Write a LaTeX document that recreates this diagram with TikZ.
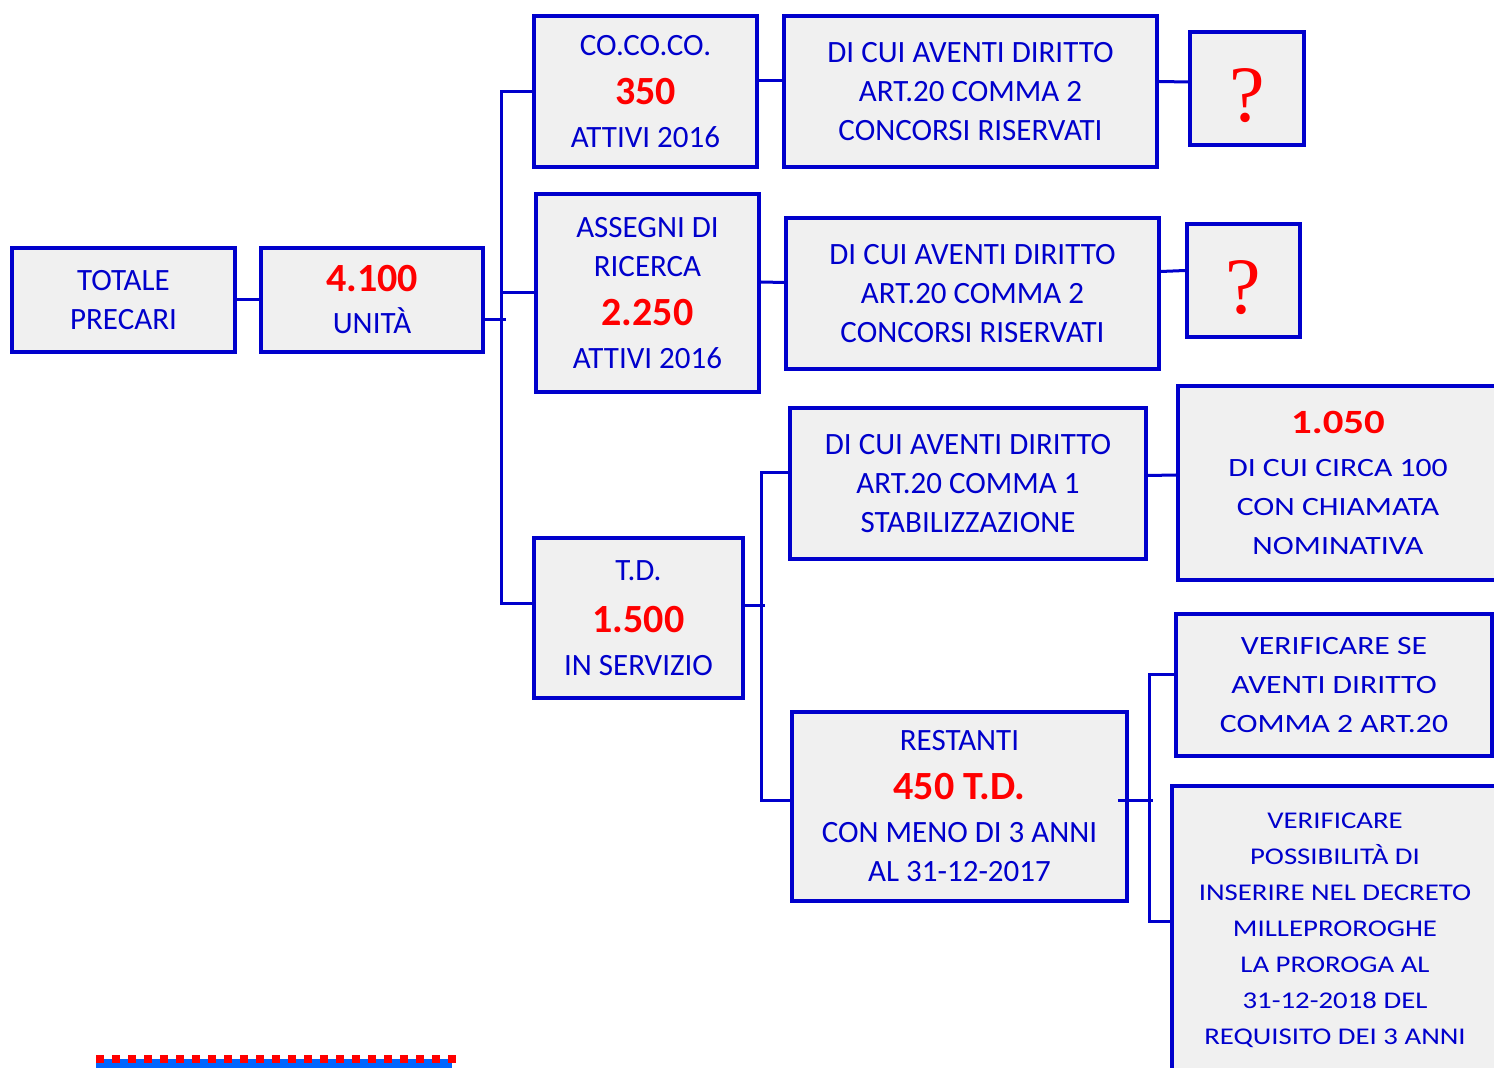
\documentclass[tikz,border=0pt]{standalone}
\usepackage{fontspec}
\setmainfont{Carlito}
\newfontfamily\widefont[FakeStretch=1.2]{Carlito}
\newfontfamily\askfont{Liberation Serif}
\definecolor{boxline}{RGB}{0,0,204}
\definecolor{boxtext}{RGB}{0,0,204}
\definecolor{boxfill}{RGB}{240,240,240}
\definecolor{amountred}{RGB}{255,0,0}
\definecolor{rulerblue}{RGB}{0,102,255}
\newcommand{\amount}[2][20]{{\fontsize{#1}{19.5}\selectfont\bfseries\color{amountred}#2}}
\newcommand{\ask}{\raisebox{-3.5pt}[\height][0pt]{?}}

\begin{document}
\begin{tikzpicture}[x=0.5pt, y=-0.5pt,
    box/.style={draw=boxline, line width=1.75pt, fill=boxfill, text=boxtext,
        align=center, inner sep=0pt, font=\fontsize{15.5}{19.5}\selectfont},
    widebox/.style={box, font=\widefont\fontsize{13.2}{19.5}\selectfont},
    askbox/.style={box, text=amountred, font=\askfont\fontsize{40}{40}\selectfont},
    boxsize/.style 2 args={minimum width=#1*0.5pt, minimum height=#2*0.5pt},
    link/.style={draw=boxline, line width=1.5pt}]
    \useasboundingbox (0,0) rectangle (1494,1068);

    % first column
    \node[box, boxsize={223}{104}] (totale) at (123.5,300) {TOTALE\\PRECARI};
    \node[box, boxsize={222}{104}] (unita) at (372,300) {\amount{4.100}\\[1.5pt]UNITÀ};

    % co.co.co.
    \node[box, boxsize={223}{151}] (cococo) at (645.5,91.5)
        {CO.CO.CO.\\[5pt]\amount{350}\\[2pt]ATTIVI 2016};
    \node[box, boxsize={373}{151}] (dicuiA) at (970.5,91.5)
        {DI CUI AVENTI DIRITTO\\ART.20 COMMA 2\\CONCORSI RISERVATI};
    \node[askbox, boxsize={114}{113}] (askA) at (1247,88.5) {\ask};

    % assegni di ricerca
    \node[box, boxsize={223}{198}] (assegni) at (647.5,293)
        {ASSEGNI DI\\RICERCA\\[5pt]\amount{2.250}\\[2pt]ATTIVI 2016};
    \node[box, boxsize={373}{151}] (dicuiB) at (972.5,293.5)
        {DI CUI AVENTI DIRITTO\\ART.20 COMMA 2\\CONCORSI RISERVATI};
    \node[askbox, boxsize={113}{113}] (askB) at (1243.5,280.5) {\ask};

    % t.d.
    \node[box, boxsize={209}{160}] (td) at (638.5,618)
        {T.D.\\[6.5pt]\amount{1.500}\\[2pt]IN SERVIZIO};
    \node[box, boxsize={356}{151}] (dicuiC) at (968,483.5)
        {DI CUI AVENTI DIRITTO\\ART.20 COMMA 1\\STABILIZZAZIONE};
    \node[widebox, boxsize={320}{194}] (chiamata) at (1338,483)
        {\amount[17]{1.050}\\[2pt]DI CUI CIRCA 100\\CON CHIAMATA\\NOMINATIVA};
    \node[box, boxsize={335}{189}] (restanti) at (959.5,806.5)
        {RESTANTI\\[5pt]\amount{450 T.D.}\\[2pt]CON MENO DI 3 ANNI\\AL 31-12-2017};
    \node[widebox, boxsize={316}{142}] (verificaA) at (1334,685)
        {VERIFICARE SE\\AVENTI DIRITTO\\COMMA 2 ART.20};
    \node[widebox, boxsize={326}{289}, font=\widefont\fontsize{12}{18}\selectfont] (verificaB) at (1335,930.5)
        {VERIFICARE\\POSSIBILITÀ DI\\INSERIRE NEL DECRETO\\MILLEPROROGHE\\LA PROROGA AL\\31-12-2018 DEL\\REQUISITO DEI 3 ANNI};

    % connectors
    \draw[link] (totale.east) -- (unita.west);
    \draw[link] ([yshift=-10pt]unita.east) -- ++(21,0);
    \draw[link] (cococo.west) -- ++(-31,0) |- ([yshift=7pt]td.west);
    \draw[link] (assegni.west) -- ++(-32,0);

    \draw[link] ([yshift=5.5pt]cococo.east) -- ([yshift=5.5pt]dicuiA.west);
    \draw[link] ([yshift=5pt]dicuiA.east) -- ([yshift=3.25pt]askA.west);
    \draw[link] ([yshift=5.5pt]assegni.east) -- ([yshift=5.5pt]dicuiB.west);
    \draw[link] ([yshift=11pt]dicuiB.east) -- ([yshift=5pt]askB.west);

    \draw[link] ([yshift=6pt]td.east) -- ++(20,0);
    \draw[link] ([yshift=5.5pt]dicuiC.west) -- ++(-27,0) |- ([yshift=3pt]restanti.west);
    \draw[link] ([yshift=4pt]dicuiC.east) -- ([yshift=4pt]chiamata.west);

    \draw[link] ([yshift=3pt]restanti.east) ++(-11,0) -- ++(35,0);
    \draw[link] ([yshift=5pt]verificaA.west) -- ++(-25,0) |- ([yshift=4.5pt]verificaB.west);

    % ruler at the bottom
    \draw[rulerblue, line width=4.3pt] (96,1063.5) -- (452,1063.5);
    \draw[amountred, line width=4pt, dash pattern=on 4pt off 4pt] (96,1059) -- (456,1059);
\end{tikzpicture}
\end{document}
